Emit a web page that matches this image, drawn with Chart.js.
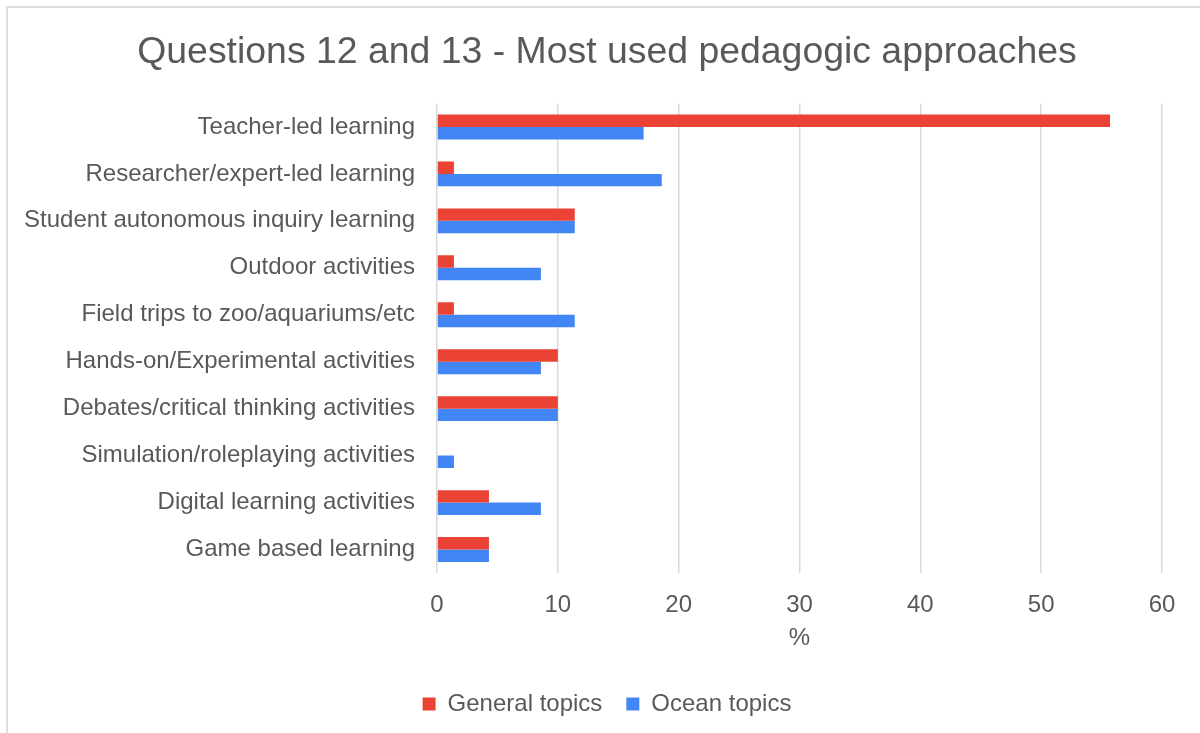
<!DOCTYPE html>
<html>
<head>
<meta charset="utf-8">
<title>Most used pedagogic approaches</title>
<script src="https://cdn.jsdelivr.net/npm/chart.js@4/dist/chart.umd.min.js"></script>
<style>
  html, body { margin: 0; padding: 0; background: #ffffff; overflow: hidden; }
  #wrap { position: relative; width: 1200px; height: 733px; }
  #frame { position: absolute; left: 6px; top: 6px; right: 0; bottom: 0;
           border-top: 2px solid #dedede; border-left: 2px solid #dedede; pointer-events: none; }
  canvas { position: absolute; left: 0; top: 0; }
</style>
</head>
<body>
<div id="wrap">
  <canvas id="chart" width="1200" height="733"></canvas>
  <div id="frame"></div>
</div>
<script>
// Survey answers, percentage of respondents (questions 12 and 13)
const approaches = [
  "Teacher-led learning",
  "Researcher/expert-led learning",
  "Student autonomous inquiry learning",
  "Outdoor activities",
  "Field trips to zoo/aquariums/etc",
  "Hands-on/Experimental activities",
  "Debates/critical thinking activities",
  "Simulation/roleplaying activities",
  "Digital learning activities",
  "Game based learning"
];
const generalTopics = [55.7, 1.4, 11.4, 1.4, 1.4, 10.0, 10.0, 0, 4.3, 4.3];
const oceanTopics   = [17.1, 18.6, 11.4, 8.6, 11.4, 8.6, 10.0, 1.4, 8.6, 4.3];
const seriesNames = ["General topics", "Ocean topics"];
const axisTitle = "%";
const chartTitle = "Questions 12 and 13 - Most used pedagogic approaches";

const textColor = "#595959";
const fontFamily = "'Liberation Sans', Arial, Helvetica, sans-serif";

// Let the long category labels run into the left margin instead of being clipped
const widenLabelArea = {
  id: "widenLabelArea",
  afterLayout(chart) { chart.scales.y.left = 0; }
};

new Chart(document.getElementById("chart"), {
  type: "bar",
  data: {
    labels: approaches,
    datasets: [
      { label: seriesNames[0], data: generalTopics, backgroundColor: "#EA4335" },
      { label: seriesNames[1], data: oceanTopics, backgroundColor: "#4285F4" }
    ]
  },
  plugins: [widenLabelArea],
  options: {
    indexAxis: "y",
    responsive: false,
    animation: false,
    maintainAspectRatio: false,
    categoryPercentage: 0.53,
    barPercentage: 1.0,
    layout: { padding: { left: 52, right: 38, top: 0, bottom: 7 } },
    scales: {
      x: {
        min: 0,
        max: 60,
        border: { display: false },
        grid: { color: "#d9d9d9", lineWidth: 1.5, drawTicks: false },
        ticks: { stepSize: 10, padding: 18, color: textColor,
                 font: { family: fontFamily, size: 24 } },
        title: { display: true, text: axisTitle, color: textColor,
                 padding: { top: 5, bottom: 15 },
                 font: { family: fontFamily, size: 24 } },
        afterFit(scale) { scale.height = 95; }
      },
      y: {
        border: { display: false },
        grid: { display: false, drawTicks: false },
        ticks: { padding: 22, color: textColor, autoSkip: false,
                 font: { family: fontFamily, size: 24 } },
        afterFit(scale) { scale.width = 385; }
      }
    },
    plugins: {
      title: {
        display: true,
        text: chartTitle,
        color: textColor,
        padding: { top: 30, bottom: 28.6 },
        font: { family: fontFamily, size: 37.4, weight: "normal" }
      },
      legend: {
        position: "bottom",
        labels: {
          boxWidth: 13,
          boxHeight: 13,
          padding: 24,
          color: textColor,
          font: { family: fontFamily, size: 24 }
        }
      },
      tooltip: { enabled: false }
    }
  }
});
</script>
</body>
</html>
